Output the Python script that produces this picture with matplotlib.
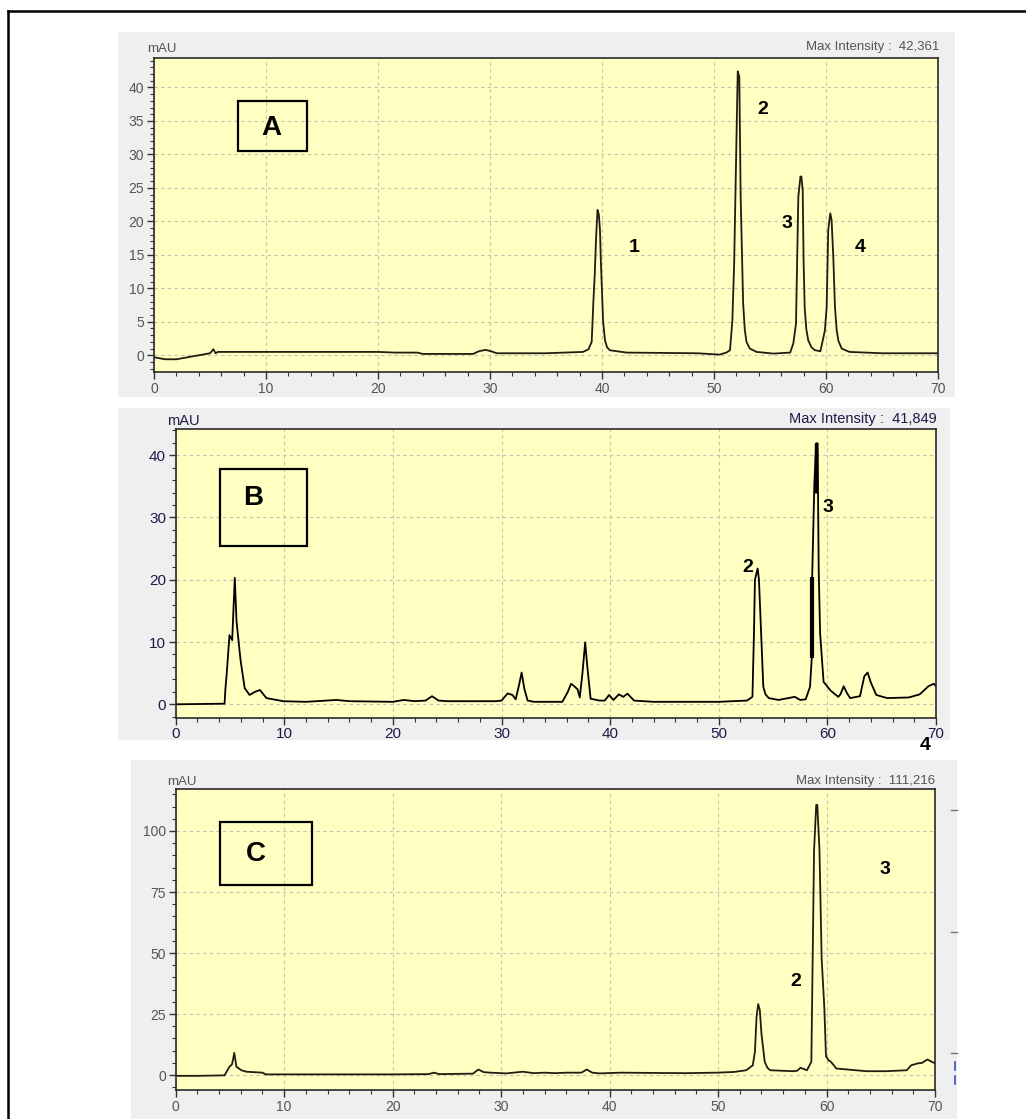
import matplotlib
matplotlib.use("Agg")
import matplotlib.pyplot as plt
from matplotlib.patches import Rectangle
from matplotlib.lines import Line2D
from matplotlib.ticker import MultipleLocator

plt.rcParams['font.family'] = ['Liberation Sans', 'DejaVu Sans']

# ---------------- data (retention time in min, absorbance in mAU) ----------------
A_time = [0, 1, 2, 3, 4, 5.0, 5.3, 5.5, 5.7, 6.2, 10, 20, 21.5, 23.5, 24, 28.5, 29.0, 29.6,
          30.1, 30.6, 35, 38.3, 38.8, 39.08, 39.23, 39.35, 39.47, 39.6, 39.72, 39.82, 39.9, 39.97,
          40.1, 40.27, 40.45, 40.7,
          42.2, 48.5, 50.5, 51.1, 51.43, 51.64, 51.8, 52.02, 52.12, 52.26, 52.38, 52.6, 52.75, 52.9,
          53.2, 53.8, 55.3, 56.8, 57.08, 57.32, 57.53, 57.72, 57.8, 57.92, 58.0, 58.1, 58.25, 58.42,
          58.7, 59.02, 59.5, 59.9, 60.06, 60.2, 60.38, 60.5, 60.65, 60.8, 60.95, 61.1, 61.4, 62.1, 65, 70]
A_mau = [-0.3, -0.6, -0.6, -0.3, 0.0, 0.3, 0.9, 0.3, 0.5, 0.5, 0.5, 0.5, 0.4, 0.4, 0.2, 0.2, 0.6, 0.8,
         0.6, 0.3, 0.3, 0.5, 0.9, 2.0, 8.0, 12.0, 17.5, 21.7, 21.0, 18.7, 14.0, 10.8,
         5.0, 2.2, 1.2, 0.75,
         0.4, 0.3, 0.1, 0.4, 0.75, 5.2, 13.7, 33.6, 42.4, 41.6, 23.7, 7.8, 3.8, 2.0,
         1.0, 0.5, 0.25, 0.4, 1.75, 4.7, 23.7, 26.7, 26.7, 24.7, 14.0, 7.0, 3.8, 2.2,
         1.2, 0.75, 0.6, 3.7, 7.2, 18.7, 21.2, 20.2, 14.7, 7.2, 3.8, 2.2, 1.0, 0.5, 0.3, 0.3]

B_time = [0, 4.5, 4.57, 4.7, 4.95, 5.2, 5.44, 5.6, 5.97, 6.35, 6.8, 7.3, 7.75, 8.35, 9.9, 12, 14.8,
          16, 20, 21, 22, 23.0, 23.6, 24.2, 25, 29.5, 30.0, 30.56, 31.0, 31.3, 31.6, 31.85, 32.1, 32.4,
          33, 35.6, 36.1, 36.4, 36.7, 37.0, 37.2, 37.45, 37.7, 37.9, 38.2, 39.0, 39.5, 39.9, 40.3,
          40.8, 41.2, 41.6, 42.2, 44, 50, 52.6, 53.1, 53.24, 53.33, 53.58, 53.7, 53.9, 54.1, 54.3, 54.6,
          55.5, 57.0, 57.5, 58.0, 58.4, 58.56, 58.6, 58.8, 58.97, 59.1, 59.2, 59.33, 59.65, 60.3,
          61.0, 61.2, 61.5, 61.8, 62.1, 63.0, 63.4, 63.7, 64.0, 64.5, 65.5, 67.5, 68.5, 69.3, 69.8, 70]
B_mau = [0.0, 0.1, 2.3, 5.0, 11.1, 10.3, 20.3, 13.3, 7.1, 2.6, 1.5, 2.0, 2.3, 1.0, 0.5, 0.4, 0.7,
         0.5, 0.4, 0.7, 0.5, 0.6, 1.3, 0.6, 0.5, 0.5, 0.6, 1.75, 1.5, 0.8, 3.0, 5.1, 2.5, 0.6,
         0.4, 0.4, 2.0, 3.3, 2.9, 2.4, 1.1, 5.0, 9.95, 6.0, 0.9, 0.6, 0.6, 1.5, 0.7,
         1.6, 1.2, 1.7, 0.6, 0.4, 0.4, 0.6, 1.2, 11.4, 20.0, 21.8, 20.0, 11.4, 2.8, 1.6, 1.0,
         0.7, 1.2, 0.7, 0.8, 2.8, 7.4, 20.5, 35.4, 41.9, 41.9, 21.6, 11.4, 3.6, 2.2,
         1.2, 1.6, 2.9, 1.8, 1.0, 1.3, 4.5, 5.1, 3.5, 1.5, 1.0, 1.1, 1.6, 2.9, 3.3, 2.9]
# thick marker strokes visible in trace B
B_mark_time = [58.6, 58.6]
B_mark_mau = [7.4, 20.5]
B_apex_time = [58.97, 58.97]
B_apex_mau = [34.0, 41.9]

C_time = [0, 2, 4.5, 4.95, 5.2, 5.4, 5.6, 6.05, 6.5, 8.0, 8.3, 12, 20, 23.3, 23.8, 24.3, 27.4, 27.9,
          28.4, 29, 30.5, 32.0, 33.0, 34.0, 35.0, 36.0, 37.4, 37.9, 38.4, 39.1, 41, 43.7, 47, 49.9,
          51.5, 52.6, 53.2, 53.4, 53.55, 53.7, 53.85, 54.0, 54.3, 54.55, 54.8, 56.9, 57.3, 57.6, 58.2,
          58.6, 58.85, 59.05, 59.15, 59.35, 59.55, 59.8, 59.95, 60.2, 60.4, 60.9, 63.7, 65.5, 67.4,
          67.8, 68.4, 68.8, 69.3, 70]
C_mau = [-0.3, -0.3, -0.1, 3.4, 4.5, 9.1, 3.4, 2.0, 1.4, 1.0, 0.3, 0.3, 0.3, 0.4, 1.0, 0.4, 0.6, 2.3,
         1.2, 1.0, 0.7, 1.4, 0.8, 1.0, 0.8, 1.0, 1.0, 2.3, 1.0, 0.7, 1.0, 0.9, 0.8, 1.0,
         1.3, 2.0, 4.0, 9.6, 24.0, 29.1, 26.6, 17.0, 5.5, 3.0, 2.0, 1.6, 1.8, 3.0, 2.0,
         5.5, 92.0, 110.7, 110.7, 92.0, 47.8, 27.4, 7.7, 6.0, 5.5, 2.7, 1.6, 1.6, 2.0,
         4.0, 4.8, 5.0, 6.4, 4.8]

panel_letters = ["A", "B", "C"]
max_intensity = ["42,361", "41,849", "111,216"]
A_peak_labels = ["1", "2", "3", "4"]
B_peak_labels = ["2", "3", "4"]
C_peak_labels = ["2", "3"]

# ---------------- figure ----------------
W, H = 1026, 1119
fig = plt.figure(figsize=(W / 100, H / 100), dpi=100)
fig.patch.set_facecolor("white")


def fx(x):
    return x / W


def fy(y):
    return 1 - y / H


def rect_px(x0, y0, x1, y1):
    return [fx(x0), fy(y1), (x1 - x0) / W, (y1 - y0) / H]


# outer frame
fig.add_artist(Line2D([fx(8), fx(8)], [fy(11), fy(1119)], color="black", lw=1.8))
fig.add_artist(Line2D([fx(8), fx(1026)], [fy(11), fy(11)], color="black", lw=1.8))

# grey window backgrounds
for (x0, y0, x1, y1) in [(118, 32, 955, 397), (118, 408, 950, 740), (131, 760, 957, 1119)]:
    fig.add_artist(Rectangle((fx(x0), fy(y1)), (x1 - x0) / W, (y1 - y0) / H,
                             transform=fig.transFigure, facecolor="#efefef",
                             edgecolor="none", zorder=0))

YELLOW = "#ffffc2"
TRACE = "#1e1e10"


def make_panel(rect, ylim, ymajor, yminor, lab_size, lab_color):
    ax = fig.add_axes(rect_px(*rect))
    ax.set_facecolor(YELLOW)
    ax.set_xlim(0, 70)
    ax.set_ylim(*ylim)
    ax.xaxis.set_major_locator(MultipleLocator(10))
    ax.xaxis.set_minor_locator(MultipleLocator(2))
    ax.yaxis.set_major_locator(MultipleLocator(ymajor))
    ax.yaxis.set_minor_locator(MultipleLocator(yminor))
    ax.tick_params(which="major", direction="out", length=5, width=1.0, color="#333333",
                   labelsize=lab_size, labelcolor=lab_color, pad=2)
    ax.tick_params(which="minor", direction="out", length=3, width=0.8, color="#333333")
    ax.grid(True, which="major", color="#c2c2b0", linestyle=(0, (3, 3)), linewidth=0.8)
    for s in ax.spines.values():
        s.set_color("#2a2a2a")
        s.set_linewidth(1.2)
    ax.set_axisbelow(True)
    return ax


# Panel A
axA = make_panel((154, 58, 938, 372), (-2.5, 44.4), 5, 1, 10, "#555555")
axA.plot(A_time, A_mau, color=TRACE, lw=1.3)
# Panel B
axB = make_panel((175.7, 429, 936, 717.7), (-2.15, 44.2), 10, 2, 11, "#1c1c48")
axB.plot(B_time, B_mau, color="black", lw=1.3)
axB.plot(B_mark_time, B_mark_mau, color="black", lw=3.0, solid_capstyle="butt")
axB.plot(B_apex_time, B_apex_mau, color="black", lw=2.5, solid_capstyle="butt")
# Panel C
axC = make_panel((175.7, 789, 935, 1090), (-6.1, 117.2), 25, 5, 10, "#555555")
axC.plot(C_time, C_mau, color=TRACE, lw=1.3)

# window captions
caps = [((147, 49), (939, 47), 9.5, "#555555"),
        ((167, 421), (937, 419), 10.5, "#1c1c48"),
        ((167, 782), (935, 781), 9.5, "#555555")]
for (m, mi, fs, col), val in zip(caps, max_intensity):
    fig.text(fx(m[0]), fy(m[1]), "mAU", ha="left", va="center", fontsize=fs, color=col)
    fig.text(fx(mi[0]), fy(mi[1]), "Max Intensity :  " + val, ha="right", va="center",
             fontsize=fs, color=col)

# boxed panel letters
boxes = [(237.7, 100.7, 306.7, 151.3), (220, 468.7, 306.7, 545.7), (220, 821.7, 312, 885)]
letter_pos = [(271, 128), (253, 498), (256, 854)]
for (x0, y0, x1, y1), (lx, ly), letter in zip(boxes, letter_pos, panel_letters):
    fig.add_artist(Rectangle((fx(x0), fy(y1)), (x1 - x0) / W, (y1 - y0) / H,
                             transform=fig.transFigure, facecolor="none",
                             edgecolor="black", lw=1.6, zorder=5))
    fig.text(fx(lx), fy(ly), letter, ha="center", va="center", fontsize=20,
             fontweight="bold", color="black")

# peak numbers
A_num_pos = [(634, 247), (763, 110), (787, 224), (860, 247)]
B_num_pos = [(748, 568), (828, 507), (925, 745)]
C_num_pos = [(796, 981), (885, 869)]
for labels, positions in [(A_peak_labels, A_num_pos), (B_peak_labels, B_num_pos),
                          (C_peak_labels, C_num_pos)]:
    for t, (px, py) in zip(labels, positions):
        fig.text(fx(px), fy(py), t, ha="center", va="center", fontsize=14,
                 fontweight="bold", color="black", zorder=6)

# remnants of a neighbouring window axis at the right of panel C
for yy in [810, 932, 1053]:
    fig.add_artist(Line2D([fx(951), fx(957)], [fy(yy), fy(yy)], color="#777777", lw=1.0))
for yy in [1066, 1080]:
    fig.add_artist(Line2D([fx(955), fx(955)], [fy(yy - 4), fy(yy + 4)], color="#3050c0", lw=1.2))

fig.savefig("out.png", dpi=100)
